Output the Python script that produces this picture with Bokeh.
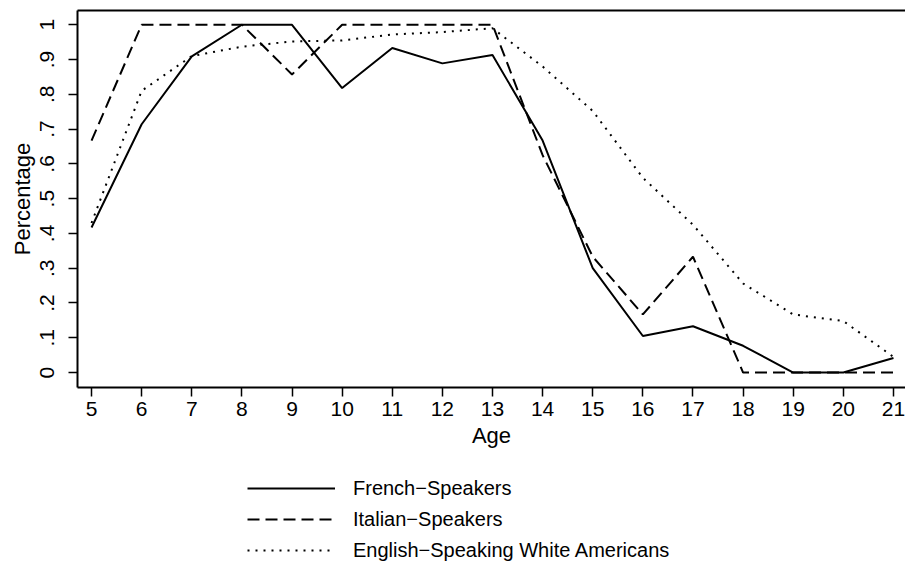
from bokeh.plotting import figure
from bokeh.layouts import column
from bokeh.models import (Range1d, FixedTicker, LinearAxis, Legend, LegendItem,
                          CustomJSTickFormatter)
from bokeh.embed import file_html
from bokeh.resources import INLINE

ages = [5, 6, 7, 8, 9, 10, 11, 12, 13, 14, 15, 16, 17, 18, 19, 20, 21]
french = [0.417, 0.714, 0.909, 1.0, 1.0, 0.818, 0.933, 0.889, 0.913, 0.667,
          0.3, 0.105, 0.133, 0.077, 0.0, 0.0, 0.042]
italian = [0.667, 1.0, 1.0, 1.0, 0.857, 1.0, 1.0, 1.0, 1.0, 0.625,
           0.333, 0.167, 0.333, 0.0, 0.0, 0.0, 0.0]
english = [0.43, 0.81, 0.91, 0.937, 0.952, 0.955, 0.972, 0.979, 0.99, 0.88,
           0.752, 0.56, 0.425, 0.256, 0.167, 0.148, 0.045]
y_ticks = [i / 10 for i in range(11)]
y_tick_labels = ["0", ".1", ".2", ".3", ".4", ".5", ".6", ".7", ".8", ".9", "1"]
series_names = ["French\u2212Speakers", "Italian\u2212Speakers",
                "English\u2212Speaking White Americans"]
dashes = ["solid", "12 6", "2 6"]

FONT = "Liberation Sans"

p = figure(width=905, height=457, output_backend="svg", toolbar_location=None,
           x_range=Range1d(4.72, 21.24), y_range=Range1d(-0.043, 1.041),
           min_border_left=77, min_border_right=0, min_border_top=10,
           min_border_bottom=70, x_axis_type=None, y_axis_type=None)
p.outline_line_color = None
p.grid.visible = False
p.background_fill_color = "white"
p.border_fill_color = "white"

# bottom axis
xa = LinearAxis(ticker=FixedTicker(ticks=ages), axis_label="Age")
xa.axis_line_width = 2
xa.major_tick_line_width = 1.5
xa.major_tick_out = 9
xa.major_tick_in = 0
xa.minor_tick_line_color = None
xa.major_label_standoff = 5
xa.major_label_text_font = FONT
xa.major_label_text_font_size = "21px"
xa.major_label_text_color = "black"
xa.axis_label_text_font = FONT
xa.axis_label_text_font_size = "22px"
xa.axis_label_text_font_style = "normal"
xa.axis_label_text_color = "black"
xa.axis_label_standoff = 4
p.add_layout(xa, "below")

# left axis
ya = LinearAxis(ticker=FixedTicker(ticks=y_ticks), axis_label="Percentage",
                formatter=CustomJSTickFormatter(args=dict(labels=y_tick_labels),
                                                code="return labels[Math.round(tick*10)];"))
ya.axis_line_width = 2
ya.major_tick_line_width = 1.5
ya.major_tick_out = 9
ya.major_tick_in = 0
ya.minor_tick_line_color = None
ya.major_label_orientation = "vertical"
ya.major_label_standoff = 14
ya.major_label_text_font = FONT
ya.major_label_text_font_size = "21px"
ya.major_label_text_color = "black"
ya.axis_label_text_font = FONT
ya.axis_label_text_font_size = "22px"
ya.axis_label_text_font_style = "normal"
ya.axis_label_text_color = "black"
ya.axis_label_standoff = 3
p.add_layout(ya, "left")

# top border line only
ta = LinearAxis(ticker=FixedTicker(ticks=[]))
ta.axis_line_width = 2
ta.major_tick_line_color = None
ta.minor_tick_line_color = None
ta.major_label_standoff = 0
ta.major_label_text_font_size = "0px"
p.add_layout(ta, "above")

series = [french, italian, english]
for vals, dash in zip(series, dashes):
    p.line(ages, vals, line_color="black", line_width=2, line_dash=dash)

# legend panel (separate figure; its lines sit outside its visible range)
lg = figure(width=905, height=113, output_backend="svg", toolbar_location=None,
            x_range=Range1d(1000, 1001), y_range=Range1d(1000, 1001),
            min_border=0, x_axis_type=None, y_axis_type=None)
lg.outline_line_color = None
lg.grid.visible = False
lg.border_fill_color = "white"
items = []
for name, vals, dash in zip(series_names, series, dashes):
    r = lg.line(ages, vals, line_color="black", line_width=2, line_dash=dash)
    items.append(LegendItem(label=name, renderers=[r]))

legend = Legend(items=items, location=(170, 8), orientation="vertical")
legend.border_line_color = None
legend.background_fill_alpha = 0
legend.padding = 0
legend.margin = 0
legend.spacing = 7
legend.glyph_width = 88
legend.glyph_height = 24
legend.label_height = 24
legend.label_standoff = 18
legend.label_text_font = FONT
legend.label_text_font_size = "20px"
legend.label_text_color = "black"
legend.label_text_baseline = "middle"
lg.add_layout(legend, "center")

layout = column(p, lg, spacing=0)
open("out.html", "w").write(file_html(layout, INLINE))
